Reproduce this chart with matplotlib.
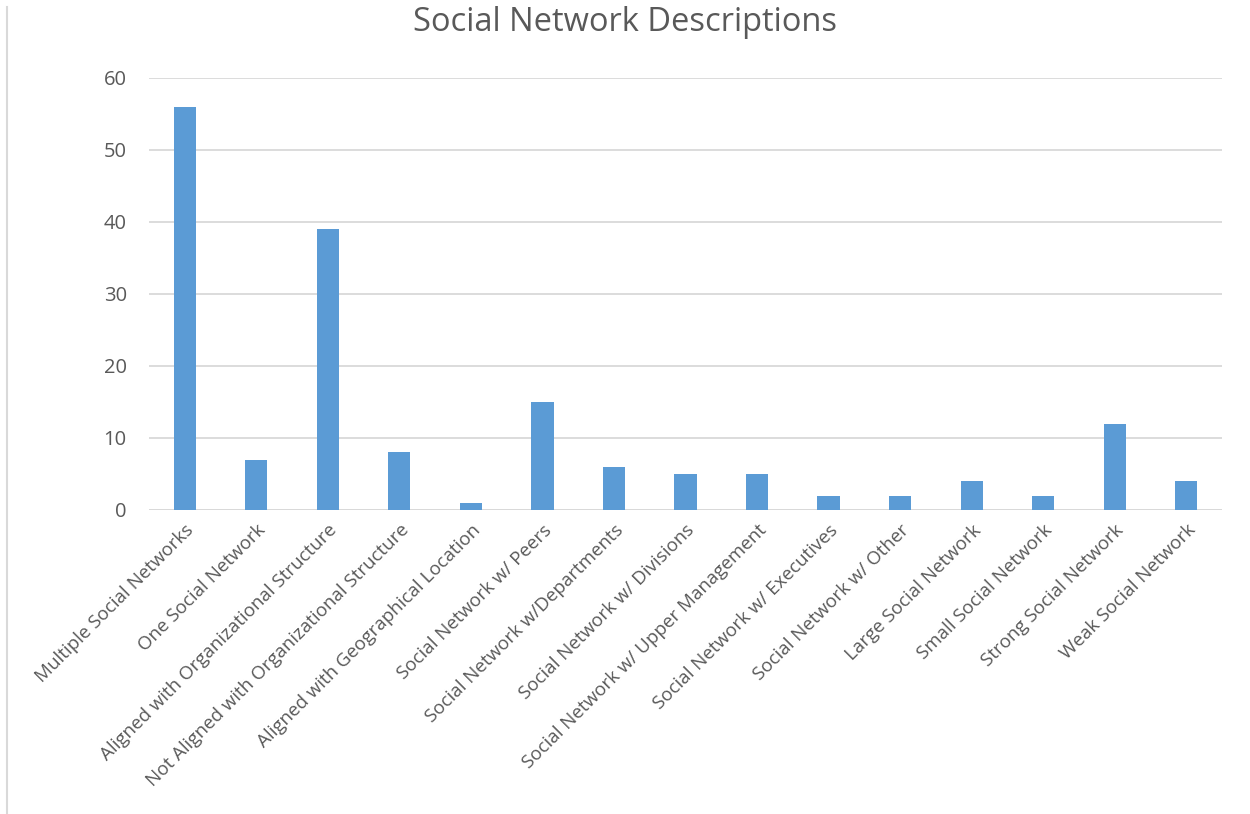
import matplotlib.pyplot as plt
import numpy as np

plt.rcParams['font.family'] = ['Open Sans', 'DejaVu Sans']

categories = [
    "Multiple Social Networks",
    "One Social Network",
    "Aligned with Organizational Structure",
    "Not Aligned with Organizational Structure",
    "Aligned with Geographical Location",
    "Social Network w/ Peers",
    "Social Network w/Departments",
    "Social Network w/ Divisions",
    "Social Network w/ Upper Management",
    "Social Network w/ Executives",
    "Social Network w/ Other",
    "Large Social Network",
    "Small Social Network",
    "Strong Social Network",
    "Weak Social Network",
]
counts = [56, 7, 39, 8, 1, 15, 6, 5, 5, 2, 2, 4, 2, 12, 4]
yticks = [0, 10, 20, 30, 40, 50, 60]

text_col = '#595959'
grid_col = '#d9d9d9'

fig = plt.figure(figsize=(12.5, 8.14), dpi=100)
ax = fig.add_axes([0.1192, 0.3735, 0.8584, 0.5307])

x = np.arange(len(categories))
ax.bar(x, counts, width=0.31, color='#5b9bd5', zorder=3)

ax.set_xlim(-0.5, len(categories) - 0.5)
ax.set_ylim(0, 60)
ax.set_yticks(yticks)
ax.set_yticklabels([str(t) for t in yticks], fontsize=14.5, color=text_col)
ax.set_xticks(x)
ax.set_xticklabels(categories, rotation=45, ha='right', rotation_mode='anchor',
                   fontsize=13.5, color=text_col)
ax.tick_params(axis='both', length=0)
ax.tick_params(axis='y', pad=16)
ax.tick_params(axis='x', pad=8)

ax.grid(axis='y', color=grid_col, linewidth=1.3, zorder=0)
for s in ax.spines.values():
    s.set_visible(False)
ax.axhline(0, color=grid_col, linewidth=1.3, zorder=2)

fig.text(0.5, 0.972, "Social Network Descriptions", ha='center', va='center',
         fontsize=23.5, color=text_col)

# thin frame line on left edge
fig.add_artist(plt.Line2D([0.0056, 0.0056], [0.0, 0.992], color=grid_col,
                          linewidth=1.5, transform=fig.transFigure))

fig.savefig('out.png', dpi=100, facecolor='white')
